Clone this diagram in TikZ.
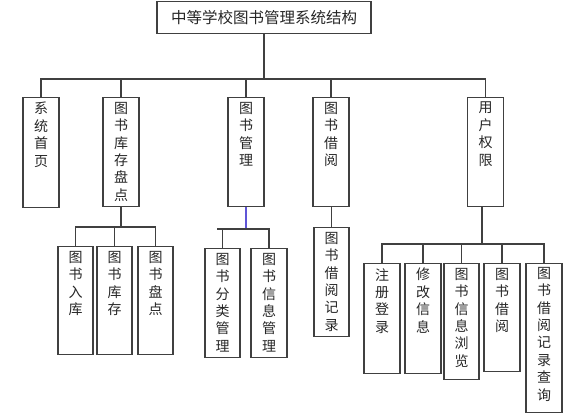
\documentclass[tikz,border=0pt]{standalone}
\usepackage{fontspec}
\newfontfamily\cjk{Noto Sans CJK SC}
\usetikzlibrary{positioning}
\begin{document}
\begin{tikzpicture}[x=1pt,y=-1pt,
  bx/.style={draw=black!75, line width=1.2pt, inner sep=0pt, minimum width=36pt, anchor=north},
  tx/.style={inner sep=0pt, align=center, font=\cjk\fontsize{14}{17.4}\selectfont, text=black!85},
  ln/.style={draw=black!75, line width=1.2pt},
  bl/.style={draw={rgb,255:red,95;green,85;blue,215}, line width=1.2pt}]
\useasboundingbox (0,0) rectangle (586,420);
% title
\node[bx, minimum width=214pt, minimum height=32pt, anchor=center, text=black!85,
      font=\cjk\fontsize{15.5}{18}\selectfont] (title) at (264,17.5) {中等学校图书管理系统结构};
% level 1
\node[bx, minimum height=110pt] (b1) at (41,97) {};
\node[tx, below=5pt of b1.north] (t1) {系\\统\\首\\页};
\node[bx, minimum height=109pt] (b2) at (121,97) {};
\node[tx, below=5pt of b2.north] (t2) {图\\书\\库\\存\\盘\\点};
\node[bx, minimum height=109pt] (b3) at (246,97) {};
\node[tx, below=5pt of b3.north] (t3) {图\\书\\管\\理};
\node[bx, minimum height=109pt] (b4) at (331,97) {};
\node[tx, below=5pt of b4.north] (t4) {图\\书\\借\\阅};
\node[bx, minimum height=109pt] (b5) at (485.5,97) {};
\node[tx, below=5pt of b5.north] (t5) {用\\户\\权\\限};
% level 2 under b2
\node[bx, minimum width=35pt, minimum height=108pt] (s1) at (75.5,246) {};
\node[tx, below=5pt of s1.north] (u1) {图\\书\\入\\库};
\node[bx, minimum width=35pt, minimum height=108pt] (s2) at (114.5,246) {};
\node[tx, below=5pt of s2.north] (u2) {图\\书\\库\\存};
\node[bx, minimum width=35pt, minimum height=108pt] (s3) at (155.5,246) {};
\node[tx, below=5pt of s3.north] (u3) {图\\书\\盘\\点};
% under b3
\node[bx, minimum width=35pt, minimum height=109pt] (s4) at (222.5,248) {};
\node[tx, below=5pt of s4.north] (u4) {图\\书\\分\\类\\管\\理};
\node[bx, minimum width=36pt, minimum height=109pt] (s5) at (269,248) {};
\node[tx, below=5pt of s5.north] (u5) {图\\书\\信\\息\\管\\理};
% under b4
\node[bx, minimum width=35pt, minimum height=109pt] (s6) at (331.5,227) {};
\node[tx, below=5pt of s6.north] (u6) {图\\书\\借\\阅\\记\\录};
% under b5
\node[bx, minimum height=110pt] (s7) at (382,263) {};
\node[tx, below=5pt of s7.north] (u7) {注\\册\\登\\录};
\node[bx, minimum height=110pt] (s8) at (423,263) {};
\node[tx, below=5pt of s8.north] (u8) {修\\改\\信\\息};
\node[bx, minimum width=35pt, minimum height=116pt] (s9) at (461.5,263) {};
\node[tx, below=5pt of s9.north] (u9) {图\\书\\信\\息\\浏\\览};
\node[bx, minimum height=108pt] (s10) at (502,263) {};
\node[tx, below=5pt of s10.north] (u10) {图\\书\\借\\阅};
\node[bx, minimum height=149pt] (s11) at (544,263) {};
\node[tx, below=4pt of s11.north] (u11) {图\\书\\借\\阅\\记\\录\\查\\询};
% connectors
\coordinate (j0) at (264,79);
\draw[ln] (title.south) -- (j0);
\foreach \n in {b1,b2,b3,b4,b5} \draw[ln] (j0) -| (\n.north);
\coordinate (j2) at (121,227);
\draw[ln] (b2.south) -- (j2);
\foreach \n in {s1,s2,s3} \draw[ln] (j2) -| (\n.north);
\coordinate (j3) at (246,229);
\coordinate (j3s) at (217,229);
\draw[bl] (b3.south) -- (j3);
\draw[ln] (j3s) -- (j3);
\foreach \n in {s4,s5} \draw[ln] (j3) -| (\n.north);
\draw[ln] (b4.south -| s6.north) -- (s6.north);
\coordinate (j5) at (482,244);
\draw[ln] (b5.south -| j5) -- (j5);
\foreach \n in {s7,s8,s9,s10,s11} \draw[ln] (j5) -| (\n.north);
\end{tikzpicture}
\end{document}
